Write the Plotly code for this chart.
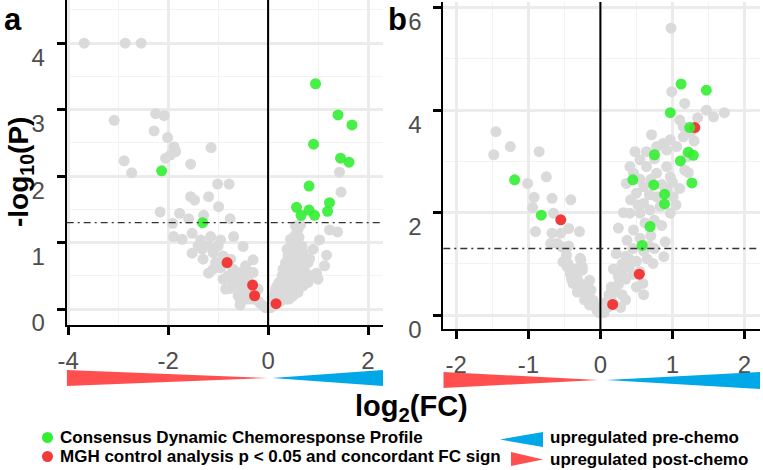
import plotly.graph_objects as go

W, H = 763, 470

# ---------------- Panel a data ----------------
a_grey_x = [-3.68, -2.86, -2.54, -3.08, -2.25, -2.08, -2.28, -2.01, -1.88, -1.85, -1.95, -2.05, -2.88, -2.73,
            -1.55, -1.14, -2.16, -1.01, -0.78, -1.55, -1.47, -1.19, -0.99, -1.77, -1.59, -1.91, -1.29, -0.76,
            -1.89, -1.72, -1.52, -1.52, -1.35, -1.15, -1.32, -0.95, -0.69, -0.50, -1.19, -0.76, -0.30,
            -1.20, -1.10, -1.00, -0.90, -1.05, -0.95, -0.85, -0.75, -0.70, -0.65, -0.80, -0.90, -0.60, -0.55,
            -0.50, -0.45, -0.40, -0.35, -0.50, -0.30, -0.25, -0.20, -0.15, -0.10, -0.05, -0.40, -0.60, -0.30,
            -0.45, -1.10, -0.85, -1.30, -1.40, -0.55, -0.56, -0.65, -0.72, -0.20,
            0.05, 0.10, 0.08, 0.15, 0.20, 0.25, 0.15, 0.30, 0.22, 0.35, 0.28, 0.40, 0.30, 0.45, 0.35, 0.50,
            0.40, 0.55, 0.45, 0.60, 0.50, 0.62, 0.55, 0.60, 0.65, 0.55, 0.45, 0.38, 0.50, 0.60, 0.70, 0.65,
            0.75, 0.55, 0.45, 0.35, 0.60, 0.70, 0.80, 0.85, 0.80, 0.70, 0.65, 0.50, 0.25, 0.42, 0.12, 0.18,
            0.32, 0.48, 0.58, 0.68, 0.38, 0.28,
            1.43, 1.46, 1.23, 1.39, 1.03, 1.17, 1.13, 0.83, 0.97, 0.90, 1.00]
a_grey_y = [4.00, 4.00, 4.00, 2.84, 2.94, 2.91, 2.68, 2.58, 2.44, 2.37, 2.32, 2.27, 2.23, 2.05,
            2.18, 2.43, 1.46, 1.88, 1.88, 1.69, 1.64, 1.69, 1.54, 1.44, 1.36, 1.29, 1.41, 1.36,
            1.09, 1.05, 1.14, 0.84, 1.04, 1.09, 0.90, 1.04, 1.09, 0.94, 0.54, 0.31, 0.74,
            0.95, 0.85, 0.95, 0.80, 0.70, 0.62, 0.68, 0.75, 0.60, 0.50, 0.50, 0.45, 0.40, 0.55,
            0.45, 0.35, 0.50, 0.30, 0.25, 0.15, 0.25, 0.12, 0.08, 0.05, 0.02, 0.15, 0.20, 0.55,
            0.65, 0.60, 0.30, 0.75, 0.95, 0.10, 0.06, 0.35, 0.42, 0.30,
            0.02, 0.05, 0.15, 0.10, 0.20, 0.12, 0.30, 0.25, 0.40, 0.35, 0.50, 0.45, 0.60, 0.60, 0.70, 0.70,
            0.80, 0.85, 0.90, 0.95, 1.00, 1.08, 1.12, 1.20, 1.27, 1.25, 1.05, 0.60, 0.50, 0.60, 0.70, 0.45,
            0.55, 0.35, 0.25, 0.15, 0.25, 0.35, 0.40, 0.50, 0.70, 0.85, 0.75, 0.20, 0.30, 0.15, 0.22, 0.35,
            0.55, 0.80, 1.00, 0.95, 0.90, 0.42,
            2.06, 1.76, 1.19, 1.16, 1.04, 0.81, 0.65, 0.76, 0.54, 0.90, 0.45]

a_green_x = [0.95, 1.40, 1.68, 0.91, 1.45, 1.62, 0.82, 0.57, 0.66, 0.82, 0.93, 1.23, 1.19, -2.13, -1.31]
a_green_y = [3.39, 2.92, 2.77, 2.48, 2.27, 2.21, 1.85, 1.53, 1.41, 1.49, 1.41, 1.60, 1.47, 2.08, 1.30]

a_red_x = [-0.82, -0.31, -0.27, 0.16]
a_red_y = [0.70, 0.36, 0.20, 0.08]

# ---------------- Panel b data ----------------
b_grey_x = [-1.45, -1.25, -1.48, -0.85, -0.75, -1.01, -0.92, -0.67, -0.41, -0.94, -0.65, -0.44, -0.29, -0.90,
            -0.67, -0.55, -0.69, -0.53, -0.44, -0.60, -0.46, -0.28, -0.25, -0.47, -0.52, -0.45, -0.42, -0.33,
            -0.38, -0.29, -0.19, -0.10, -0.05, -0.25, -0.15, -0.13, -0.27, -0.35, -0.40, -0.30, -0.20, -0.22,
            -0.08, -0.15, -0.32, -0.02,
            0.98, 0.99, 1.17, 1.47, 1.57, 1.72, 1.10, 1.15, 0.71, 1.15, 0.97, 0.87, 0.78, 1.06, 0.48, 0.64,
            0.92, 1.20, 0.55, 0.41, 0.64, 0.92, 1.17, 0.46, 0.78, 0.97, 0.36, 0.60, 0.92, 1.10, 0.50, 0.78,
            1.01, 0.60, 0.83, 0.41, 0.55, 0.69, 0.97, 1.22, 0.90, 0.88, 0.73, 0.59, 0.37, 0.46, 0.62, 0.75,
            0.85, 0.70, 0.55, 0.45, 0.35, 0.60, 0.75, 0.50, 0.40, 0.30, 0.25, 0.35, 0.45, 0.20, 0.15, 0.30,
            0.10, 0.05, 0.20, 0.25, 0.30, 0.40, 0.65, 0.55, 0.60, 0.50, 0.15, 0.28, 0.12, 0.35, 1.00, 1.05,
            0.85, 0.70, 0.55, 0.75, 1.30, 1.25, 1.35, 0.68, 0.52, 0.42, 0.32, 0.25, 0.68, 0.18, 0.08, 0.22]
b_grey_y = [3.58, 3.29, 3.13, 3.19, 2.70, 2.57, 2.30, 2.28, 2.25, 2.10, 1.99, 1.69, 1.63, 1.63,
            1.60, 1.60, 1.40, 1.33, 1.35, 1.40, 0.94, 1.11, 0.94, 1.17, 1.04, 1.01, 0.81, 0.75,
            0.62, 0.55, 0.42, 0.29, 0.10, 0.88, 0.68, 0.49, 1.07, 0.90, 0.70, 0.65, 0.55, 0.30,
            0.18, 0.20, 0.45, 0.05,
            5.60, 4.36, 4.13, 4.00, 3.87, 3.95, 3.81, 3.68, 3.52, 3.48, 3.42, 3.35, 3.29, 3.29, 3.19, 3.19,
            3.22, 3.09, 3.03, 2.90, 2.90, 2.90, 2.83, 2.77, 2.77, 2.70, 2.57, 2.51, 2.47, 2.47, 2.38, 2.31,
            2.31, 2.18, 2.12, 1.99, 1.99, 2.05, 1.99, 2.78, 1.43, 1.14, 1.01, 0.62, 1.46, 1.66, 1.80, 1.85,
            1.75, 1.55, 1.50, 1.30, 1.15, 1.25, 1.30, 1.05, 0.95, 0.85, 0.60, 0.70, 0.80, 0.45, 0.30, 0.40,
            0.15, 0.05, 0.20, 0.75, 1.00, 1.10, 1.10, 0.85, 0.40, 0.55, 0.55, 0.15, 0.40, 0.30, 2.60, 2.15,
            2.55, 2.65, 2.65, 3.05, 3.40, 3.55, 3.85, 2.35, 2.15, 2.25, 2.00, 1.70, 1.35, 0.90, 0.25, 1.20]

b_green_x = [1.12, 1.47, 0.97, 1.24, 1.22, 1.29, 0.75, 1.11, 0.45, 0.74, 1.27, 0.89, 0.89, 0.69, 0.58, -1.19, -0.82]
b_green_y = [4.51, 4.39, 3.95, 3.66, 3.18, 3.12, 3.13, 3.01, 2.64, 2.54, 2.58, 2.36, 2.17, 1.73, 1.36, 2.64, 1.95]

b_red_x = [1.31, -0.55, 0.54, 0.17]
b_red_y = [3.66, 1.86, 0.80, 0.21]

# axis settings
a_xrange = [-4.03, 2.30]
a_yrange = [-0.24, 4.65]
b_xrange = [-2.18, 2.215]
b_yrange = [-0.27, 6.11]
a_xticks = [-4, -2, 0, 2]
a_xlabels = ['-4', '-2', '0', '2']
a_xminor = [-3, -1, 1]
a_yticks = [0, 1, 2, 3, 4]
a_yminor = [0.5, 1.5, 2.5, 3.5, 4.5]
b_xticks = [-2, -1, 0, 1, 2]
b_xlabels = ['-2', '-1', '0', '1', '2']
b_xminor = [-1.5, -0.5, 0.5, 1.5]
b_yticks = [0, 2, 4, 6]
b_yminor = [1, 3, 5]
threshold = 1.301

GREY = '#DADADA'
GREEN = '#33EE33'
RED = '#F23A3A'
TRI_RED = '#FF4F4F'
TRI_BLUE = '#00A8E8'
FONT = 'Liberation Sans, Arial, sans-serif'


def px(x):
    return x / W


def py(y):
    return 1 - y / H


fig = go.Figure()
for xs, ys, col, xa, ya, op in [
    (a_grey_x, a_grey_y, GREY, 'x', 'y', 1.0),
    (a_red_x, a_red_y, RED, 'x', 'y', 1.0),
    (a_green_x, a_green_y, GREEN, 'x', 'y', 0.9),
    (b_grey_x, b_grey_y, GREY, 'x2', 'y2', 1.0),
    (b_red_x, b_red_y, RED, 'x2', 'y2', 1.0),
    (b_green_x, b_green_y, GREEN, 'x2', 'y2', 0.9),
]:
    fig.add_trace(go.Scatter(x=xs, y=ys, mode='markers', xaxis=xa, yaxis=ya,
                             marker=dict(size=11, color=col, opacity=op, line=dict(width=0)),
                             showlegend=False, hoverinfo='skip'))

tickfont = dict(family=FONT, size=24, color='#4D4D4D')
common = dict(showgrid=True, gridcolor='#EBEBEB', gridwidth=2.5, zeroline=False,
              showline=True, linecolor='black', linewidth=2, ticks='outside', ticklen=8,
              tickwidth=2.5, tickcolor='black', tickfont=tickfont, mirror=False, automargin=False)
minor = dict(showgrid=True, gridcolor='#F2F2F2', gridwidth=1.2, ticks='')

fig.update_layout(
    width=W, height=H, margin=dict(l=0, r=0, t=0, b=0, pad=0), autosize=False,
    paper_bgcolor='white', plot_bgcolor='white',
    xaxis=dict(domain=[px(66.7), px(383)], range=a_xrange, tickvals=a_xticks, ticktext=a_xlabels,
               minor=dict(tickvals=a_xminor, **minor), anchor='y', ticklabelstandoff=5, **common),
    yaxis=dict(domain=[py(325), py(0)], range=a_yrange, tickvals=a_yticks,
               minor=dict(tickvals=a_yminor, **minor), anchor='x', ticklabelshift=14,
               ticklabelstandoff=7, **common),
    xaxis2=dict(domain=[px(443.3), px(760)], range=b_xrange, tickvals=b_xticks, ticktext=b_xlabels,
                minor=dict(tickvals=b_xminor, **minor), anchor='y2', ticklabelstandoff=5, **common),
    yaxis2=dict(domain=[py(329), py(2)], range=b_yrange, tickvals=b_yticks,
                minor=dict(tickvals=b_yminor, **minor), anchor='x2', ticklabelshift=14,
                ticklabelstandoff=7, **common),
)

shapes = []
for xr, yr in [('x', 'y'), ('x2', 'y2')]:
    shapes.append(dict(type='line', xref=xr, yref=yr + ' domain', x0=0, x1=0, y0=0, y1=1,
                       line=dict(color='black', width=2), layer='above'))
    shapes.append(dict(type='line', xref=xr + ' domain', yref=yr, x0=0, x1=1, y0=threshold, y1=threshold,
                       line=dict(color='#333333', width=1.3, dash='7px,4px,2px,4px'), layer='above'))


def tri(xref, pts, color):
    path = 'M ' + ' L '.join(f'{x},{y}' for x, y in pts) + ' Z'
    return dict(type='path', xref=xref, yref='paper', path=path, fillcolor=color,
                line=dict(width=0), layer='above')


# direction triangles below x axes
shapes.append(tri('x', [(a_xrange[0], py(370)), (a_xrange[0], py(386)), (0, py(378))], TRI_RED))
shapes.append(tri('x', [(0.08, py(378)), (a_xrange[1], py(370)), (a_xrange[1], py(386))], TRI_BLUE))
shapes.append(tri('x2', [(b_xrange[0], py(372)), (b_xrange[0], py(388)), (-0.03, py(380))], TRI_RED))
shapes.append(tri('x2', [(0.08, py(380)), (b_xrange[1], py(372)), (b_xrange[1], py(389))], TRI_BLUE))

# legend symbols
shapes.append(dict(type='circle', xref='paper', yref='paper', x0=px(42), x1=px(53), y0=py(443), y1=py(432),
                   fillcolor=GREEN, line=dict(width=0)))
shapes.append(dict(type='circle', xref='paper', yref='paper', x0=px(42), x1=px(53), y0=py(462), y1=py(451),
                   fillcolor=RED, line=dict(width=0)))
shapes.append(dict(type='path', xref='paper', yref='paper',
                   path=f'M {px(500)},{py(439.5)} L {px(543)},{py(432)} L {px(543)},{py(447)} Z',
                   fillcolor=TRI_BLUE, line=dict(width=0)))
shapes.append(dict(type='path', xref='paper', yref='paper',
                   path=f'M {px(511)},{py(452)} L {px(511)},{py(466)} L {px(543)},{py(459.5)} Z',
                   fillcolor=TRI_RED, line=dict(width=0)))
fig.update_layout(shapes=shapes)

ann = []


def text(x, y, s, size, anchor='left', angle=0, color='black'):
    ann.append(dict(xref='paper', yref='paper', x=px(x), y=py(y), text=s, showarrow=False,
                    xanchor=anchor, yanchor='middle', textangle=angle,
                    font=dict(family=FONT, size=size, color=color)))


text(13, 19, '<b>a</b>', 31, 'center')
text(397, 19, '<b>b</b>', 31, 'center')
text(412, 408, '<b>log<sub>2</sub>(FC)</b>', 29, 'center')
text(20, 172, '<b>-log<sub>10</sub>(P)</b>', 28, 'center', angle=-90)
text(58, 437, '<b>Consensus Dynamic Chemoresponse Profile</b>', 17)
text(58, 456, '<b>MGH control analysis p &lt; 0.05 and concordant FC sign</b>', 17)
text(548, 437, '<b>upregulated pre-chemo</b>', 17)
text(548, 459, '<b>upregulated post-chemo</b>', 17)
fig.update_layout(annotations=ann)

fig.write_html('out.html', config={'displayModeBar': False},
               post_script="document.body.style.margin='0';document.body.style.padding='0';")
